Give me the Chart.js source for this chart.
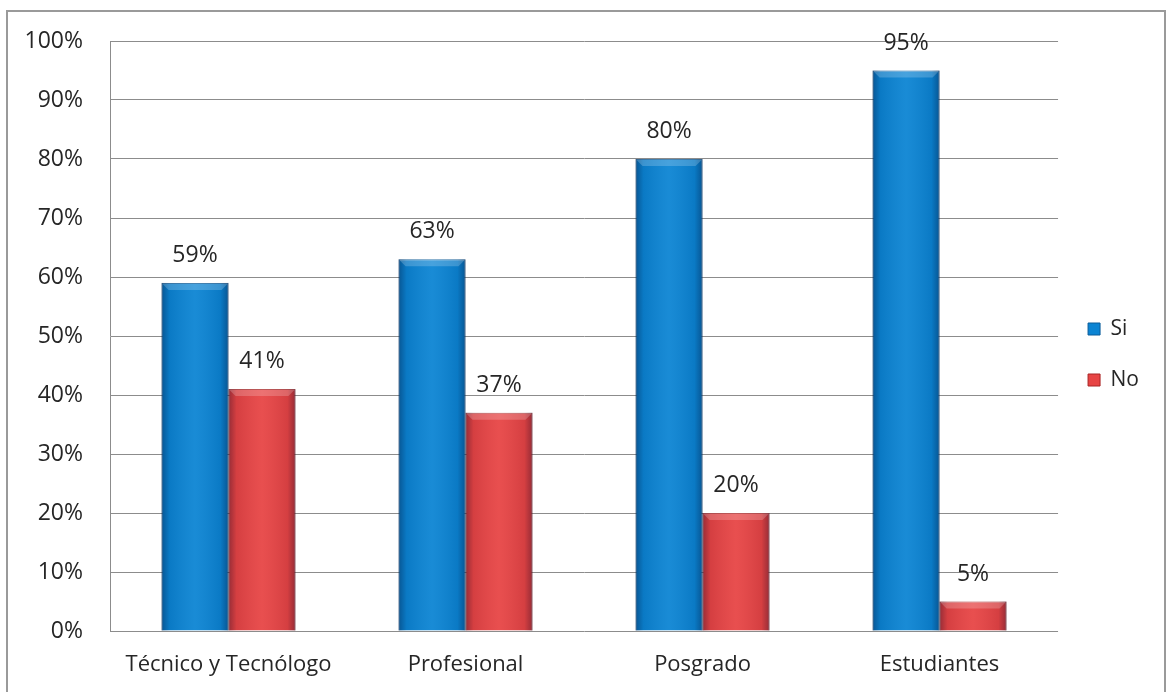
<!DOCTYPE html>
<html>
<head>
<meta charset="utf-8">
<script src="https://cdn.jsdelivr.net/npm/chart.js@4.4.1/dist/chart.umd.min.js"></script>
<style>
  html, body { margin: 0; padding: 0; background: #ffffff; }
  #wrap { position: relative; width: 1174px; height: 692px; }
</style>
</head>
<body>
<div id="wrap"><canvas id="chart" width="1174" height="692"></canvas></div>
<script>
// categorías y porcentajes
const categories = ["Técnico y Tecnólogo", "Profesional", "Posgrado", "Estudiantes"];
const siValues = [59, 63, 80, 95];
const noValues = [41, 37, 20, 5];
const seriesNames = ["Si", "No"];

const FONT = "'Open Sans', 'DejaVu Sans', sans-serif";

// marco gris alrededor del gráfico
const framePlugin = {
  id: "frame",
  beforeDraw(chart) {
    const c = chart.ctx;
    c.save();
    c.fillStyle = "#ffffff";
    c.fillRect(0, 0, chart.width, chart.height);
    c.strokeStyle = "#9a9a9a";
    c.lineWidth = 2;
    c.strokeRect(7, 11, 1158, 720);
    c.restore();
  },
  // la leyenda se centra un poco más arriba
  afterLayout(chart) {
    if (chart.legend) chart.legend.bottom -= 24;
  }
};

// sombreado tipo bisel sobre cada barra
const bevelPlugin = {
  id: "bevel",
  afterDatasetsDraw(chart) {
    const c = chart.ctx;
    c.save();
    chart.data.datasets.forEach((ds, i) => {
      chart.getDatasetMeta(i).data.forEach(bar => {
        const x0 = bar.x - bar.width / 2;
        const w = bar.width;
        const y0 = bar.y;
        const h = bar.base - bar.y;
        const g = c.createLinearGradient(x0, 0, x0 + w, 0);
        g.addColorStop(0, "rgba(0,0,30,0.35)");
        g.addColorStop(0.12, "rgba(0,0,30,0.08)");
        g.addColorStop(0.5, "rgba(255,255,255,0.06)");
        g.addColorStop(0.88, "rgba(0,0,30,0.08)");
        g.addColorStop(1, "rgba(0,0,30,0.35)");
        c.fillStyle = g;
        c.fillRect(x0, y0, w, h);
        // borde superior claro
        const b = Math.min(7, h / 2);
        c.fillStyle = "rgba(255,255,255,0.2)";
        c.beginPath();
        c.moveTo(x0, y0);
        c.lineTo(x0 + w, y0);
        c.lineTo(x0 + w - b, y0 + b);
        c.lineTo(x0 + b, y0 + b);
        c.closePath();
        c.fill();
      });
    });
    c.restore();
  }
};

// etiquetas de porcentaje sobre las barras
const valueLabels = {
  id: "valueLabels",
  afterDatasetsDraw(chart) {
    const c = chart.ctx;
    c.save();
    c.font = "23px " + FONT;
    c.fillStyle = "#262626";
    c.textAlign = "center";
    c.textBaseline = "bottom";
    chart.data.datasets.forEach((ds, i) => {
      chart.getDatasetMeta(i).data.forEach((bar, j) => {
        c.fillText(ds.data[j] + "%", bar.x, bar.y - 16);
      });
    });
    c.restore();
  }
};

new Chart(document.getElementById("chart"), {
  type: "bar",
  data: {
    labels: categories,
    datasets: [
      {
        label: seriesNames[0],
        data: siValues,
        backgroundColor: "#0b84d3",
        borderColor: "#0a5c9a",
        borderWidth: 1,
        borderSkipped: "bottom"
      },
      {
        label: seriesNames[1],
        data: noValues,
        backgroundColor: "#e74444",
        borderColor: "#a82424",
        borderWidth: 1,
        borderSkipped: "bottom"
      }
    ]
  },
  options: {
    responsive: false,
    animation: false,
    layout: {
      padding: { top: 41, left: 0, right: 25, bottom: 0 }
    },
    datasets: {
      bar: {
        categoryPercentage: 0.565,
        barPercentage: 1
      }
    },
    scales: {
      x: {
        grid: { display: false, drawTicks: false },
        border: { display: false },
        ticks: {
          color: "#262626",
          font: { family: FONT, size: 22 },
          padding: 21
        },
        afterFit(scale) { scale.height = 61; }
      },
      y: {
        min: 0,
        max: 100,
        grid: { color: "#8c8c8c", lineWidth: 1, drawTicks: false },
        border: { display: true, color: "#8c8c8c", width: 1 },
        ticks: {
          stepSize: 10,
          color: "#262626",
          font: { family: FONT, size: 23 },
          padding: 27,
          callback: v => v + "%"
        },
        afterFit(scale) { scale.width = 110; }
      }
    },
    plugins: {
      legend: {
        position: "right",
        labels: {
          boxWidth: 12,
          boxHeight: 12,
          color: "#262626",
          font: { family: FONT, size: 21 },
          padding: 30
        }
      },
      tooltip: { enabled: false }
    }
  },
  plugins: [framePlugin, bevelPlugin, valueLabels]
});
</script>
</body>
</html>
